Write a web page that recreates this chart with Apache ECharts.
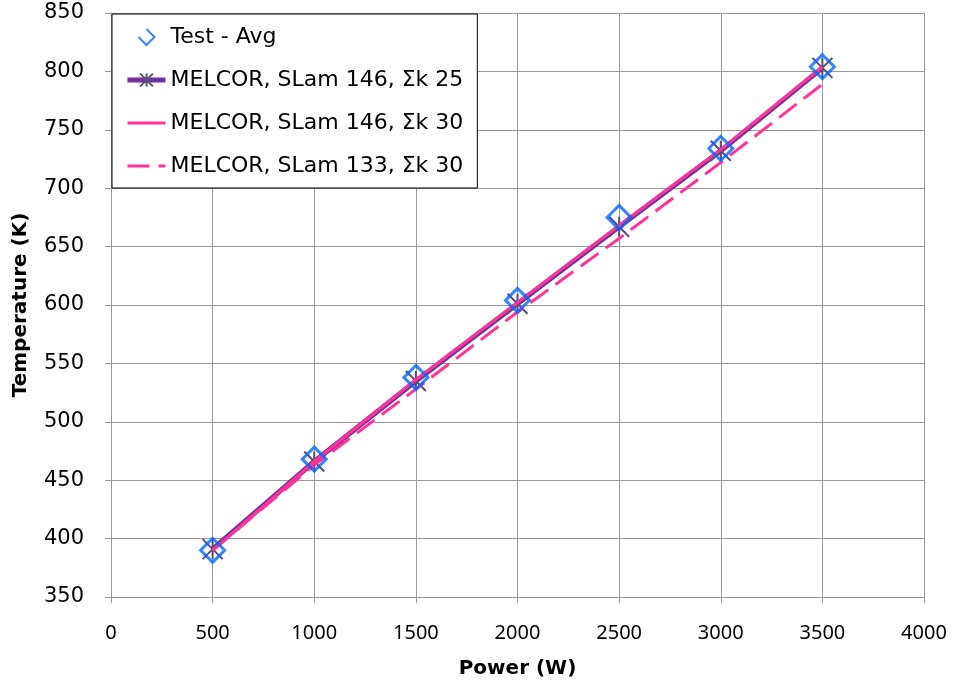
<!DOCTYPE html>
<html>
<head>
<meta charset="utf-8">
<script src="https://cdn.jsdelivr.net/npm/echarts@6/dist/echarts.min.js"></script>
<style>html,body{margin:0;padding:0;background:#fff;}#c{width:958px;height:690px;}</style>
</head>
<body>
<div id="c"></div>
<script>
const power = [500, 1000, 1500, 2000, 2500, 3000, 3500];
const testAvg = [390, 468, 538, 604, 675, 734, 804];
const melcor146k25 = [391, 466, 535, 601, 667, 732, 803];
const melcor146k30 = [390, 466, 536, 602, 668, 733, 804];
const melcor133k30 = [390, 463, 528, 594, 657, 722, 789];
const seriesNames = ['Test - Avg', 'MELCOR, SLam 146, Σk 25', 'MELCOR, SLam 146, Σk 30', 'MELCOR, SLam 133, Σk 30'];

const pairs = arr => power.map((p, i) => [p, arr[i]]);
const FONT = 'DejaVu Sans';
const GRID = '#989898';

const chart = echarts.init(document.getElementById('c'), null, {renderer: 'canvas'});
chart.setOption({
  animation: false,
  backgroundColor: '#fff',
  grid: {left: 111, right: 34, top: 13, bottom: 93, containLabel: false},
  xAxis: {
    type: 'value', min: 0, max: 4000, interval: 500,
    name: 'Power (W)', nameLocation: 'middle', nameGap: 62,
    nameTextStyle: {fontFamily: FONT, fontSize: 20, fontWeight: 'bold', color: '#000'},
    axisLine: {show: true, lineStyle: {color: GRID, width: 1}},
    axisTick: {show: true, inside: false, length: 6, lineStyle: {color: GRID}},
    axisLabel: {fontFamily: 'Noto Sans', fontSize: 20, color: '#000', margin: 26, formatter: v => String(v)},
    splitLine: {show: true, lineStyle: {color: GRID, width: 1}}
  },
  yAxis: {
    type: 'value', min: 350, max: 850, interval: 50,
    name: 'Temperature (K)', nameLocation: 'middle', nameGap: 80,
    nameTextStyle: {fontFamily: FONT, fontSize: 20, fontWeight: 'bold', color: '#000'},
    axisLine: {show: true, lineStyle: {color: GRID, width: 1}},
    axisTick: {show: true, inside: false, length: 6, lineStyle: {color: GRID}},
    axisLabel: {fontFamily: FONT, fontSize: 21, color: '#000', margin: 27},
    splitLine: {show: true, lineStyle: {color: GRID, width: 1}}
  },
  legend: {
    orient: 'vertical', left: 112, top: 14, z: 20,
    backgroundColor: '#fff', borderColor: '#000', borderWidth: 1, borderRadius: 0,
    padding: [10, 14, 9, 13], itemGap: 17, itemWidth: 38, itemHeight: 16,
    textStyle: {fontFamily: FONT, fontSize: 22, color: '#000', lineHeight: 26},
    data: [
      {name: seriesNames[0], icon: 'path://M0,10L10,20L20,10L10,0'},
      {name: seriesNames[1], lineStyle: {width: 5, color: '#7030A0'}},
      {name: seriesNames[2], itemStyle: {opacity: 0}, lineStyle: {width: 3, color: '#FF3399'}},
      {name: seriesNames[3], itemStyle: {opacity: 0}, lineStyle: {width: 3, color: '#FF3399', type: [22, 9]}}
    ]
  },
  series: [
    {
      name: seriesNames[1], type: 'line', data: pairs(melcor146k25), z: 2,
      symbol: 'path://M0,0L10,10M10,0L0,10M5,0L5,10', symbolSize: 20,
      itemStyle: {color: '#5B4A7C', borderColor: '#5B4A7C', borderWidth: 2},
      lineStyle: {color: '#7030A0', width: 5}
    },
    {
      name: seriesNames[2], type: 'line', data: pairs(melcor146k30), z: 3,
      symbol: 'none', itemStyle: {color: '#FF3399'},
      lineStyle: {color: '#FF3399', width: 3}
    },
    {
      name: seriesNames[3], type: 'line', data: pairs(melcor133k30), z: 4,
      symbol: 'none', itemStyle: {color: '#FF3399'},
      lineStyle: {color: '#FF3399', width: 3, type: [22, 9]}
    },
    {
      name: seriesNames[0], type: 'scatter', data: pairs(testAvg), z: 5,
      symbol: 'diamond', symbolSize: 24,
      itemStyle: {color: 'rgba(0,0,0,0)', borderColor: '#0066FF', borderWidth: 3}
    }
  ]
});
</script>
</body>
</html>
